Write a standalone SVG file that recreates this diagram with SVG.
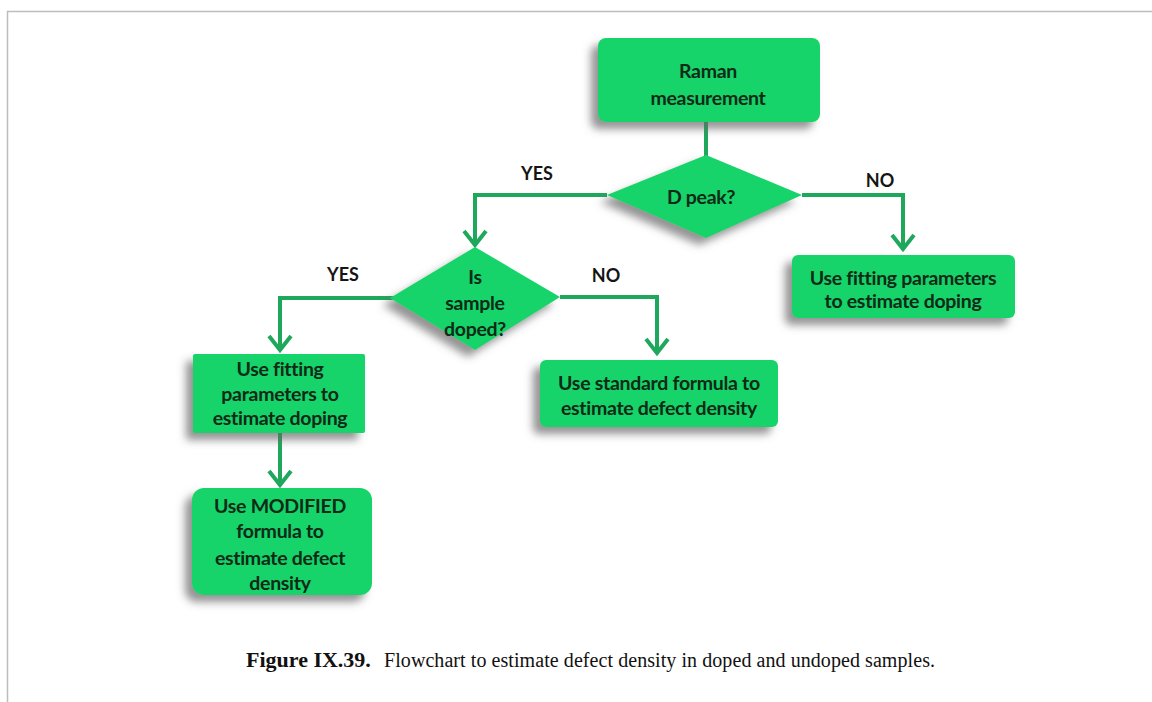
<svg xmlns="http://www.w3.org/2000/svg" width="1152" height="702" viewBox="0 0 1152 702">
<style>
.node{fill:#17d36b;}
.t{font-family:Lato,"Open Sans","Liberation Sans",sans-serif;font-weight:bold;font-size:19.5px;fill:#0f2a16;text-anchor:middle;dominant-baseline:central;letter-spacing:-0.3px;}
.lbl{font-family:Lato,"Open Sans","Liberation Sans",sans-serif;font-weight:bold;font-size:18px;fill:#151515;text-anchor:middle;dominant-baseline:central;}
.c{fill:none;stroke:#1fa85c;stroke-width:4;marker-end:url(#arr);}
.frame{stroke:#bdbdbd;stroke-width:1.5;fill:none;}
.cap{font-family:"Liberation Serif","DejaVu Serif",serif;font-size:20px;fill:#111;}
</style>
<defs>
<filter id="sh" x="-30%" y="-30%" width="160%" height="170%">
<feDropShadow dx="-7" dy="7" stdDeviation="4" flood-color="#666" flood-opacity="0.7"/>
</filter>
<marker id="arr" markerUnits="userSpaceOnUse" markerWidth="30" markerHeight="30" viewBox="-20 -15 25 30" refX="0" refY="0" orient="auto">
<path d="M-15,-11 L-1,0 L-15,11" fill="none" stroke="#1fa85c" stroke-width="4" stroke-linejoin="miter"/>
</marker>
</defs>
<rect width="1152" height="702" fill="#fff"/>
<path class="frame" d="M1152,11.5 H7.5 V702"/>

<g id="connectors">
<path class="c" d="M706,122 V157" style="marker-end:none"/>
<path class="c" d="M607,195 H475 V246"/>
<path class="c" d="M802,195 H903 V250"/>
<path class="c" d="M393,298 H280 V351"/>
<path class="c" d="M560,297 H657 V354"/>
<path class="c" d="M280,433 V486"/>
</g>

<g id="raman">
<rect class="node" x="598" y="38" width="222" height="84" rx="8" filter="url(#sh)"/>
<text class="t" x="708" y="70">Raman</text>
<text class="t" x="708" y="97">measurement</text>
</g>

<g id="dpeak">
<polygon class="node" points="706,155 802,195 706,238 607,195" filter="url(#sh)"/>
<text class="t" x="701" y="196">D peak?</text>
</g>

<g id="label-yes1"><text class="lbl" x="537" y="173">YES</text></g>
<g id="label-no1"><text class="lbl" x="880" y="180">NO</text></g>
<g id="label-yes2"><text class="lbl" x="343" y="274">YES</text></g>
<g id="label-no2"><text class="lbl" x="606" y="275">NO</text></g>

<g id="fit-right">
<rect class="node" x="792" y="255" width="223" height="63" rx="6" filter="url(#sh)"/>
<text class="t" x="903" y="277">Use fitting parameters</text>
<text class="t" x="903" y="300">to estimate doping</text>
</g>

<g id="doped">
<polygon class="node" points="475,247 560,297 475,350 390,298" filter="url(#sh)"/>
<text class="t" x="475" y="276">Is</text>
<text class="t" x="475" y="302">sample</text>
<text class="t" x="475" y="328">doped?</text>
</g>

<g id="standard">
<rect class="node" x="540" y="360" width="238" height="67" rx="6" filter="url(#sh)"/>
<text class="t" x="659" y="382">Use standard formula to</text>
<text class="t" x="659" y="407">estimate defect density</text>
</g>

<g id="fit-left">
<rect class="node" x="193" y="354" width="172" height="79" rx="2" filter="url(#sh)"/>
<text class="t" x="280" y="368">Use fitting</text>
<text class="t" x="280" y="393">parameters to</text>
<text class="t" x="280" y="417">estimate doping</text>
</g>

<g id="modified">
<rect class="node" x="192" y="488" width="180" height="107" rx="12" filter="url(#sh)"/>
<text class="t" x="280" y="505">Use MODIFIED</text>
<text class="t" x="280" y="530">formula to</text>
<text class="t" x="280" y="557">estimate defect</text>
<text class="t" x="280" y="582">density</text>
</g>

<g id="caption">
<text class="cap" x="246" y="667" style="font-weight:bold;font-size:22px">Figure IX.39.</text>
<text class="cap" x="384" y="667" textLength="551" lengthAdjust="spacing">Flowchart to estimate defect density in doped and undoped samples.</text>
</g>
</svg>
